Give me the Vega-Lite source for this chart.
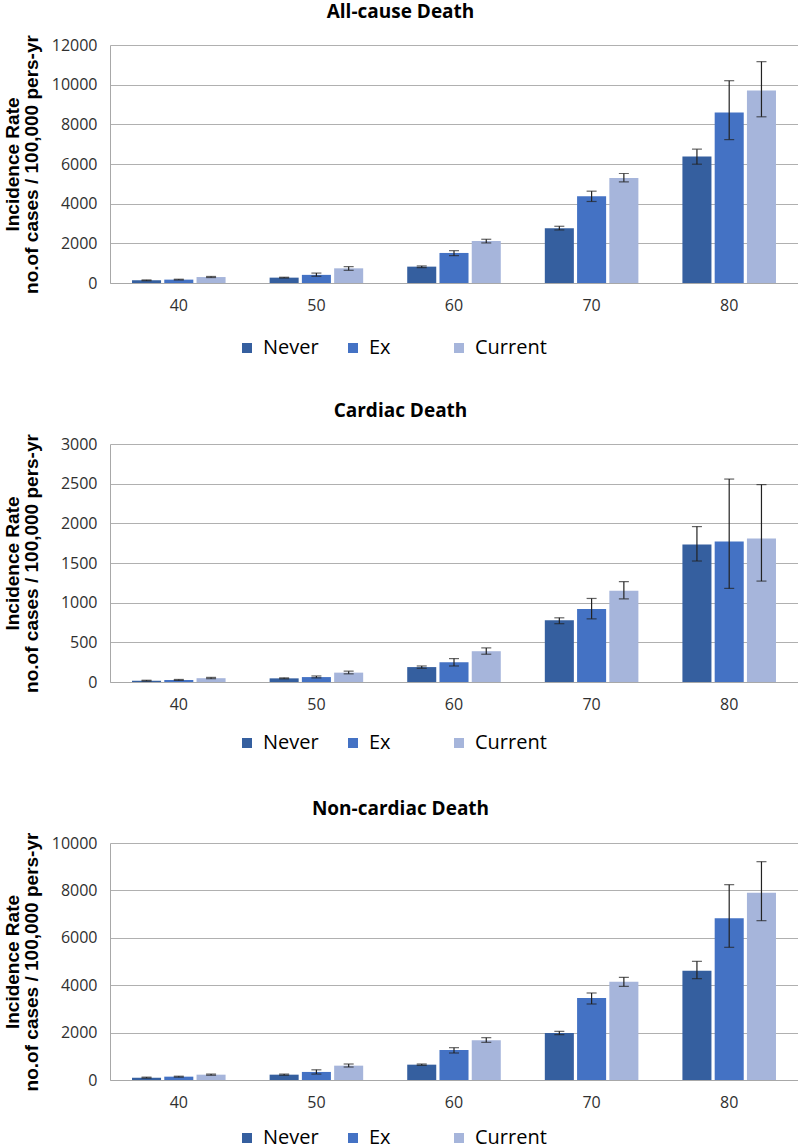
{
  "$schema": "https://vega.github.io/schema/vega-lite/v6.json",
  "padding": {"left": 2, "top": 2, "right": 0, "bottom": 0},
  "spacing": 43,
  "data": {"values": [
    {"panel": "All-cause Death", "age": "40", "status": "Never", "rate": 135, "lo": 115, "hi": 155},
    {"panel": "All-cause Death", "age": "40", "status": "Ex", "rate": 170, "lo": 150, "hi": 190},
    {"panel": "All-cause Death", "age": "40", "status": "Current", "rate": 300, "lo": 275, "hi": 330},
    {"panel": "All-cause Death", "age": "50", "status": "Never", "rate": 270, "lo": 250, "hi": 290},
    {"panel": "All-cause Death", "age": "50", "status": "Ex", "rate": 410, "lo": 340, "hi": 500},
    {"panel": "All-cause Death", "age": "50", "status": "Current", "rate": 740, "lo": 640, "hi": 825},
    {"panel": "All-cause Death", "age": "60", "status": "Never", "rate": 825, "lo": 775, "hi": 860},
    {"panel": "All-cause Death", "age": "60", "status": "Ex", "rate": 1515, "lo": 1380, "hi": 1630},
    {"panel": "All-cause Death", "age": "60", "status": "Current", "rate": 2120, "lo": 2020, "hi": 2205},
    {"panel": "All-cause Death", "age": "70", "status": "Never", "rate": 2760, "lo": 2675, "hi": 2860},
    {"panel": "All-cause Death", "age": "70", "status": "Ex", "rate": 4380, "lo": 4110, "hi": 4630},
    {"panel": "All-cause Death", "age": "70", "status": "Current", "rate": 5300, "lo": 5100, "hi": 5520},
    {"panel": "All-cause Death", "age": "80", "status": "Never", "rate": 6380, "lo": 5990, "hi": 6750},
    {"panel": "All-cause Death", "age": "80", "status": "Ex", "rate": 8600, "lo": 7230, "hi": 10200},
    {"panel": "All-cause Death", "age": "80", "status": "Current", "rate": 9710, "lo": 8380, "hi": 11160},
    {"panel": "Cardiac Death", "age": "40", "status": "Never", "rate": 17, "lo": 12, "hi": 22},
    {"panel": "Cardiac Death", "age": "40", "status": "Ex", "rate": 25, "lo": 20, "hi": 32},
    {"panel": "Cardiac Death", "age": "40", "status": "Current", "rate": 48, "lo": 42, "hi": 58},
    {"panel": "Cardiac Death", "age": "50", "status": "Never", "rate": 46, "lo": 40, "hi": 52},
    {"panel": "Cardiac Death", "age": "50", "status": "Ex", "rate": 62, "lo": 52, "hi": 76},
    {"panel": "Cardiac Death", "age": "50", "status": "Current", "rate": 118, "lo": 103, "hi": 137},
    {"panel": "Cardiac Death", "age": "60", "status": "Never", "rate": 188, "lo": 173, "hi": 202},
    {"panel": "Cardiac Death", "age": "60", "status": "Ex", "rate": 249, "lo": 202, "hi": 295},
    {"panel": "Cardiac Death", "age": "60", "status": "Current", "rate": 388, "lo": 350, "hi": 430},
    {"panel": "Cardiac Death", "age": "70", "status": "Never", "rate": 778, "lo": 735, "hi": 809},
    {"panel": "Cardiac Death", "age": "70", "status": "Ex", "rate": 919, "lo": 796, "hi": 1053},
    {"panel": "Cardiac Death", "age": "70", "status": "Current", "rate": 1150, "lo": 1049, "hi": 1264},
    {"panel": "Cardiac Death", "age": "80", "status": "Never", "rate": 1732, "lo": 1525, "hi": 1959},
    {"panel": "Cardiac Death", "age": "80", "status": "Ex", "rate": 1772, "lo": 1180, "hi": 2558},
    {"panel": "Cardiac Death", "age": "80", "status": "Current", "rate": 1808, "lo": 1272, "hi": 2488},
    {"panel": "Non-cardiac Death", "age": "40", "status": "Never", "rate": 98, "lo": 80, "hi": 120},
    {"panel": "Non-cardiac Death", "age": "40", "status": "Ex", "rate": 141, "lo": 120, "hi": 160},
    {"panel": "Non-cardiac Death", "age": "40", "status": "Current", "rate": 225, "lo": 200, "hi": 250},
    {"panel": "Non-cardiac Death", "age": "50", "status": "Never", "rate": 225, "lo": 200, "hi": 250},
    {"panel": "Non-cardiac Death", "age": "50", "status": "Ex", "rate": 340, "lo": 250, "hi": 430},
    {"panel": "Non-cardiac Death", "age": "50", "status": "Current", "rate": 605, "lo": 548, "hi": 675},
    {"panel": "Non-cardiac Death", "age": "60", "status": "Never", "rate": 647, "lo": 619, "hi": 675},
    {"panel": "Non-cardiac Death", "age": "60", "status": "Ex", "rate": 1266, "lo": 1139, "hi": 1364},
    {"panel": "Non-cardiac Death", "age": "60", "status": "Current", "rate": 1680, "lo": 1589, "hi": 1786},
    {"panel": "Non-cardiac Death", "age": "70", "status": "Never", "rate": 1985, "lo": 1913, "hi": 2053},
    {"panel": "Non-cardiac Death", "age": "70", "status": "Ex", "rate": 3460, "lo": 3207, "hi": 3671},
    {"panel": "Non-cardiac Death", "age": "70", "status": "Current", "rate": 4150, "lo": 3952, "hi": 4332},
    {"panel": "Non-cardiac Death", "age": "80", "status": "Never", "rate": 4613, "lo": 4276, "hi": 5007},
    {"panel": "Non-cardiac Death", "age": "80", "status": "Ex", "rate": 6821, "lo": 5598, "hi": 8242},
    {"panel": "Non-cardiac Death", "age": "80", "status": "Current", "rate": 7904, "lo": 6723, "hi": 9212}
  ]},
  "resolve": {"scale": {"color": "independent"}, "legend": {"color": "independent"}},
  "vconcat": [
    {
      "title": "All-cause Death",
      "width": 688, "height": 238,
      "transform": [{"filter": "datum.panel === 'All-cause Death'"}],
      "encoding": {
        "x": {"field": "age", "type": "nominal", "scale": {"paddingInner": 0.32, "paddingOuter": 0.16}, "axis": {"title": null, "labelAngle": 0, "grid": false}},
        "xOffset": {"field": "status", "type": "nominal", "sort": ["Never", "Ex", "Current"], "scale": {"paddingInner": 0.1, "paddingOuter": 0}}
      },
      "resolve": {"axis": {"y": "independent"}},
      "layer": [
        {"mark": {"type": "bar"},
         "encoding": {
           "y": {"field": "rate", "type": "quantitative", "scale": {"domain": [0, 12000], "nice": false}, "axis": {"values": [0, 2000, 4000, 6000, 8000, 10000, 12000], "format": "d", "title": ["Incidence Rate", "no.of cases / 100,000 pers-yr"]}},
           "color": {"field": "status", "type": "nominal", "sort": ["Never", "Ex", "Current"], "scale": {"domain": ["Never", "Ex", "Current"], "range": ["#355F9F", "#4472C4", "#A6B5DB"]}, "legend": {"legendX": 127, "legendY": 293}}
         }},
        {"mark": {"type": "rule", "color": "#222222", "strokeWidth": 1.2},
         "encoding": {"y": {"field": "lo", "type": "quantitative", "axis": null}, "y2": {"field": "hi"}}},
        {"mark": {"type": "tick", "color": "#222222", "thickness": 1.2, "size": 10},
         "encoding": {"y": {"field": "lo", "type": "quantitative", "axis": null}}},
        {"mark": {"type": "tick", "color": "#222222", "thickness": 1.2, "size": 10},
         "encoding": {"y": {"field": "hi", "type": "quantitative", "axis": null}}}
      ]
    },
    {
      "title": "Cardiac Death",
      "width": 688, "height": 238,
      "transform": [{"filter": "datum.panel === 'Cardiac Death'"}],
      "encoding": {
        "x": {"field": "age", "type": "nominal", "scale": {"paddingInner": 0.32, "paddingOuter": 0.16}, "axis": {"title": null, "labelAngle": 0, "grid": false}},
        "xOffset": {"field": "status", "type": "nominal", "sort": ["Never", "Ex", "Current"], "scale": {"paddingInner": 0.1, "paddingOuter": 0}}
      },
      "resolve": {"axis": {"y": "independent"}},
      "layer": [
        {"mark": {"type": "bar"},
         "encoding": {
           "y": {"field": "rate", "type": "quantitative", "scale": {"domain": [0, 3000], "nice": false}, "axis": {"values": [0, 500, 1000, 1500, 2000, 2500, 3000], "format": "d", "title": ["Incidence Rate", "no.of cases / 100,000 pers-yr"]}},
           "color": {"field": "status", "type": "nominal", "sort": ["Never", "Ex", "Current"], "scale": {"domain": ["Never", "Ex", "Current"], "range": ["#355F9F", "#4472C4", "#A6B5DB"]}, "legend": {"legendX": 123, "legendY": 285, "padding": 4}}
         }},
        {"mark": {"type": "rule", "color": "#222222", "strokeWidth": 1.2},
         "encoding": {"y": {"field": "lo", "type": "quantitative", "axis": null}, "y2": {"field": "hi"}}},
        {"mark": {"type": "tick", "color": "#222222", "thickness": 1.2, "size": 10},
         "encoding": {"y": {"field": "lo", "type": "quantitative", "axis": null}}},
        {"mark": {"type": "tick", "color": "#222222", "thickness": 1.2, "size": 10},
         "encoding": {"y": {"field": "hi", "type": "quantitative", "axis": null}}}
      ]
    },
    {
      "title": "Non-cardiac Death",
      "width": 688, "height": 237,
      "transform": [{"filter": "datum.panel === 'Non-cardiac Death'"}],
      "encoding": {
        "x": {"field": "age", "type": "nominal", "scale": {"paddingInner": 0.32, "paddingOuter": 0.16}, "axis": {"title": null, "labelAngle": 0, "grid": false}},
        "xOffset": {"field": "status", "type": "nominal", "sort": ["Never", "Ex", "Current"], "scale": {"paddingInner": 0.1, "paddingOuter": 0}}
      },
      "resolve": {"axis": {"y": "independent"}},
      "layer": [
        {"mark": {"type": "bar"},
         "encoding": {
           "y": {"field": "rate", "type": "quantitative", "scale": {"domain": [0, 10000], "nice": false}, "axis": {"values": [0, 2000, 4000, 6000, 8000, 10000], "format": "d", "title": ["Incidence Rate", "no.of cases / 100,000 pers-yr"]}},
           "color": {"field": "status", "type": "nominal", "sort": ["Never", "Ex", "Current"], "scale": {"domain": ["Never", "Ex", "Current"], "range": ["#355F9F", "#4472C4", "#A6B5DB"]}, "legend": {"legendX": 127, "legendY": 285}}
         }},
        {"mark": {"type": "rule", "color": "#222222", "strokeWidth": 1.2},
         "encoding": {"y": {"field": "lo", "type": "quantitative", "axis": null}, "y2": {"field": "hi"}}},
        {"mark": {"type": "tick", "color": "#222222", "thickness": 1.2, "size": 10},
         "encoding": {"y": {"field": "lo", "type": "quantitative", "axis": null}}},
        {"mark": {"type": "tick", "color": "#222222", "thickness": 1.2, "size": 10},
         "encoding": {"y": {"field": "hi", "type": "quantitative", "axis": null}}}
      ]
    }
  ],
  "config": {
    "view": {"stroke": null},
    "font": "Open Sans",
    "title": {"font": "Open Sans", "fontSize": 19, "fontWeight": "bold", "color": "#000000", "frame": "bounds", "anchor": "middle", "offset": 13},
    "axis": {
      "domainColor": "#A8A8A8", "gridColor": "#B0B0B0", "ticks": false,
      "labelFont": "Open Sans", "labelFontSize": 16, "labelColor": "#303030",
      "titleFont": "Liberation Sans", "titleFontSize": 19, "titleFontWeight": "bold", "titleColor": "#000000", "titleLineHeight": 19
    },
    "axisY": {"grid": true, "domain": true, "labelPadding": 13, "minExtent": 56, "maxExtent": 56, "titlePadding": 13},
    "axisX": {"labelPadding": 14, "domain": true},
    "legend": {
      "orient": "none", "direction": "horizontal", "title": null,
      "columns": 3, "gridAlign": "all", "columnPadding": 8,
      "symbolType": "square", "symbolSize": 100, "symbolStrokeWidth": 0, "symbolOpacity": 1,
      "labelFont": "Open Sans", "labelFontSize": 20, "labelColor": "#000000", "labelOffset": 6
    }
  }
}
